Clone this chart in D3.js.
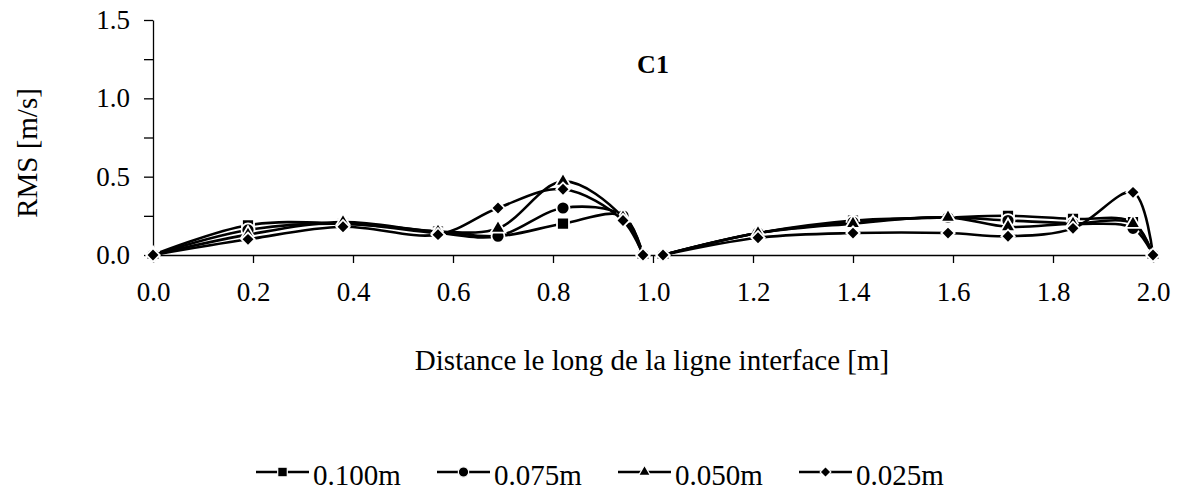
<!DOCTYPE html>
<html>
<head>
<meta charset="utf-8">
<script src="https://cdn.jsdelivr.net/npm/d3@7"></script>
<style>
  html, body { margin: 0; padding: 0; background: #ffffff; }
  svg { display: block; }
  text { font-family: "Liberation Serif", "Times New Roman", serif; fill: #000; }
</style>
</head>
<body>
<svg id="chart" width="1180" height="490"></svg>
<script>
// ---- data ----
const xValues = [0, 0.19, 0.38, 0.57, 0.69, 0.82, 0.94, 0.98, 1.02, 1.21, 1.40, 1.59, 1.71, 1.84, 1.96, 2.0];
const seriesNames = ["0.100m", "0.075m", "0.050m", "0.025m"];
const seriesSymbols = ["square", "circle", "triangle", "diamond"];
const s100 = [0, 0.19, 0.20, 0.15, 0.12, 0.20, 0.25, 0, 0, 0.14, 0.22, 0.24, 0.25, 0.23, 0.21, 0];
const s075 = [0, 0.16, 0.20, 0.14, 0.12, 0.30, 0.25, 0, 0, 0.14, 0.21, 0.24, 0.22, 0.20, 0.17, 0];
const s050 = [0, 0.13, 0.21, 0.15, 0.17, 0.47, 0.24, 0, 0, 0.14, 0.20, 0.24, 0.18, 0.20, 0.20, 0];
const s025 = [0, 0.10, 0.18, 0.13, 0.30, 0.42, 0.22, 0, 0, 0.11, 0.14, 0.14, 0.12, 0.17, 0.40, 0];
const xTicks = [0, 0.2, 0.4, 0.6, 0.8, 1.0, 1.2, 1.4, 1.6, 1.8, 2.0];
const yTicks = [0, 0.25, 0.5, 0.75, 1.0, 1.25, 1.5];
const yLabelTicks = [0, 0.5, 1.0, 1.5];
const segmentBreak = 8; // the two halves of the interface line are drawn separately
const chartTitle = "C1";
const xTitle = "Distance le long de la ligne interface [m]";
const yTitle = "RMS [m/s]";

const allSeries = [s100, s075, s050, s025];
const SERIF = "'Liberation Serif', 'Times New Roman', serif";

// ---- layout ----
const svg = d3.select("#chart");
const x = d3.scaleLinear().domain([0, 2]).range([153, 1153]);
const y = d3.scaleLinear().domain([0, 1.5]).range([255, 20]);

// axes
const yAxis = d3.axisLeft(y)
  .tickValues(yTicks)
  .tickSize(9)
  .tickSizeOuter(0)
  .tickPadding(14)
  .tickFormat(d => yLabelTicks.includes(d) ? d.toFixed(1) : "");
const gy = svg.append("g").attr("transform", "translate(153,0)").call(yAxis)
  .attr("font-family", SERIF).attr("font-size", 27);
gy.selectAll("text").style("font-size", "27px").style("font-family", SERIF);

const xAxis = d3.axisBottom(x)
  .tickValues(xTicks)
  .tickSize(8)
  .tickSizeOuter(0)
  .tickPadding(19)
  .tickFormat(d => d.toFixed(1));
const gx = svg.append("g").attr("transform", "translate(0,255)").call(xAxis)
  .attr("font-family", SERIF).attr("font-size", 27);
gx.selectAll("text").style("font-size", "27px").style("font-family", SERIF);

[gx, gy].forEach(g => {
  g.selectAll("path.domain").attr("stroke", "#000").attr("stroke-width", 1.3);
  g.selectAll(".tick line").attr("stroke", "#000").attr("stroke-width", 1.3);
});

// titles
svg.append("text")
  .attr("x", 653).attr("y", 73)
  .attr("text-anchor", "middle")
  .style("font-size", "26px").style("font-weight", "bold")
  .text(chartTitle);

svg.append("text")
  .attr("x", 652).attr("y", 370)
  .attr("text-anchor", "middle")
  .style("font-size", "29px")
  .text(xTitle);

svg.append("text")
  .attr("transform", "translate(37,153) rotate(-90)")
  .attr("text-anchor", "middle")
  .style("font-size", "29px")
  .style("font-family", SERIF)
  .text(yTitle);

// symbols
function symbolPath(kind, scale) {
  const k = scale || 1;
  if (kind === "square") return d3.symbol().type(d3.symbolSquare).size(144 * k * k)();
  if (kind === "circle") return d3.symbol().type(d3.symbolCircle).size(133 * k * k)();
  if (kind === "triangle") return d3.symbol().type(d3.symbolTriangle).size(95 * k * k)();
  return d3.symbol().type(d3.symbolSquare).size(90 * k * k)();
}
function symbolRotation(kind) { return kind === "diamond" ? 45 : 0; }

const line = d3.line()
  .x(d => x(d[0]))
  .y(d => y(d[1]))
  .curve(d3.curveCatmullRom.alpha(0.5));

allSeries.forEach((vals, si) => {
  const pts = xValues.map((xv, i) => [xv, vals[i]]);
  const segs = [pts.slice(0, segmentBreak), pts.slice(segmentBreak)];
  const g = svg.append("g");
  segs.forEach(seg => {
    g.append("path")
      .attr("d", line(seg))
      .attr("fill", "none")
      .attr("stroke", "#000")
      .attr("stroke-width", 2.6);
  });
  const kind = seriesSymbols[si];
  g.selectAll("path.mk")
    .data(pts)
    .enter().append("path")
    .attr("class", "mk")
    .attr("d", symbolPath(kind))
    .attr("transform", d => `translate(${x(d[0])},${y(d[1])}) rotate(${symbolRotation(kind)})`)
    .attr("fill", "#000")
    .attr("stroke", "#fff")
    .attr("stroke-width", 1.8);
});

// legend
const legendStart = 256, legendStep = 181, legendY = 472;
seriesNames.forEach((name, i) => {
  const lx = legendStart + i * legendStep;
  const g = svg.append("g");
  g.append("line")
    .attr("x1", lx).attr("x2", lx + 53)
    .attr("y1", legendY).attr("y2", legendY)
    .attr("stroke", "#000").attr("stroke-width", 2.6);
  const kind = seriesSymbols[i];
  g.append("path")
    .attr("d", symbolPath(kind, 0.8))
    .attr("transform", `translate(${lx + 26.5},${legendY}) rotate(${symbolRotation(kind)})`)
    .attr("fill", "#000")
    .attr("stroke", "#fff")
    .attr("stroke-width", 1.2);
  g.append("text")
    .attr("x", lx + 57).attr("y", 485)
    .style("font-size", "29px")
    .text(name);
});
</script>
</body>
</html>
